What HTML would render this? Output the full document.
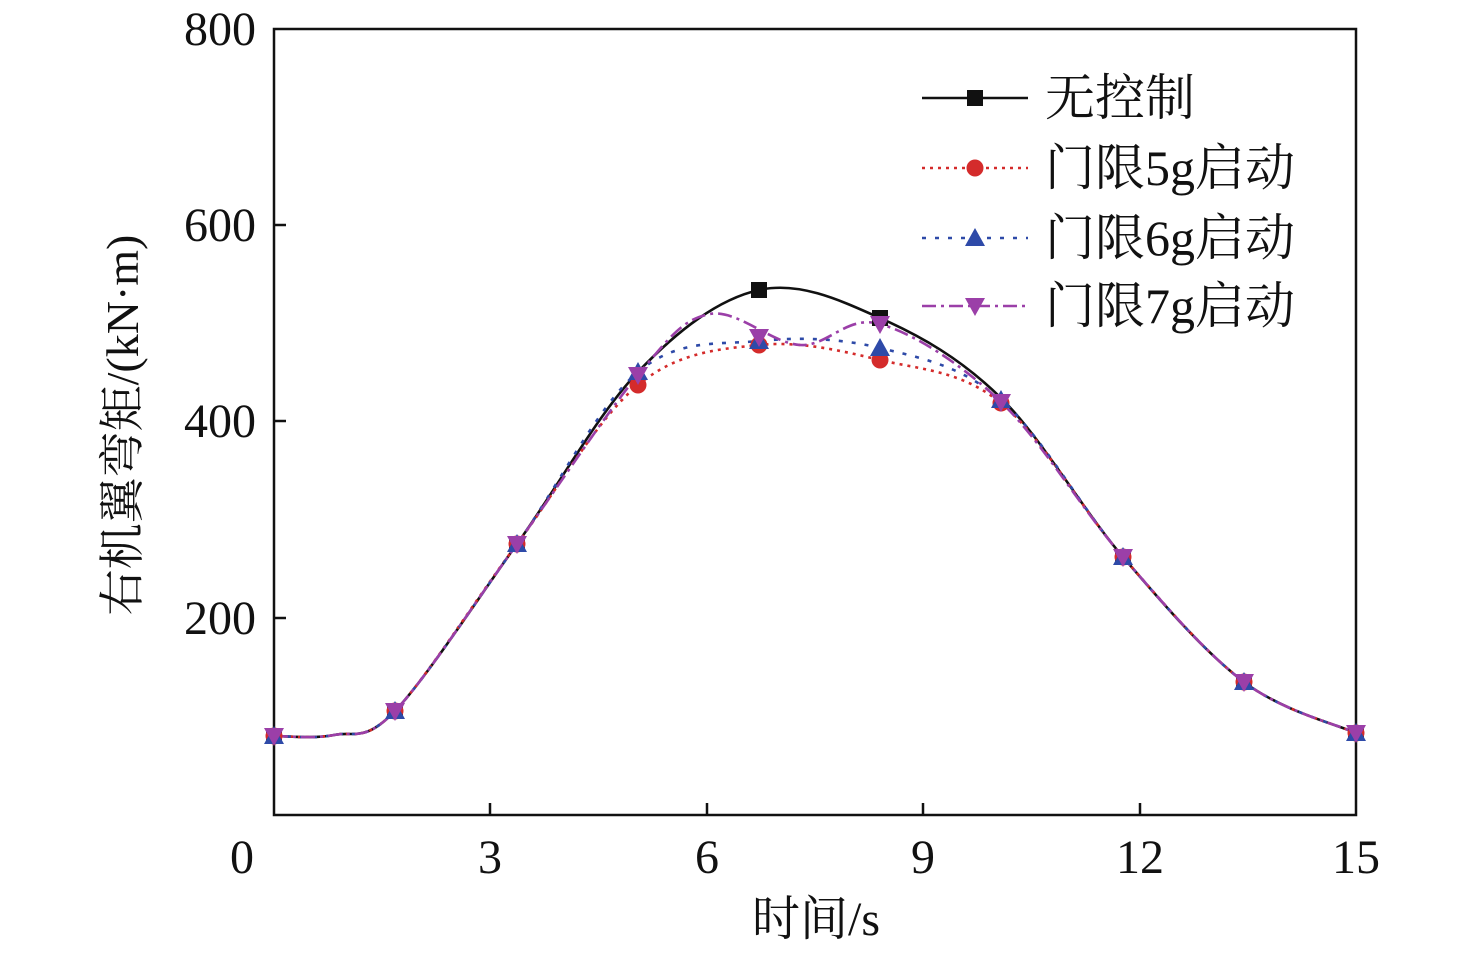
<!DOCTYPE html>
<html><head><meta charset="utf-8"><style>
html,body{margin:0;padding:0;background:#fff;}
svg{display:block;}
text{font-family:"Liberation Serif","Noto Serif CJK SC",serif;fill:#111;}
</style></head><body>
<svg id="s" width="1476" height="953" xmlns="http://www.w3.org/2000/svg">
<rect x="274" y="29" width="1082" height="786" fill="none" stroke="#111" stroke-width="2.5"/>
<g stroke="#111" stroke-width="2.5">
<line x1="490" y1="815" x2="490" y2="803"/><line x1="707" y1="815" x2="707" y2="803"/>
<line x1="923" y1="815" x2="923" y2="803"/><line x1="1140" y1="815" x2="1140" y2="803"/>
<line x1="274" y1="225" x2="286" y2="225"/><line x1="274" y1="421" x2="286" y2="421"/>
<line x1="274" y1="618" x2="286" y2="618"/>
</g>
<g font-size="48" text-anchor="middle">
<text x="242" y="873">0</text><text x="490" y="873">3</text><text x="707" y="873">6</text>
<text x="923" y="873">9</text><text x="1140" y="873">12</text><text x="1356" y="873">15</text>
</g>
<g font-size="48" text-anchor="end">
<text x="256" y="45">800</text><text x="256" y="241">600</text><text x="256" y="437">400</text><text x="256" y="634">200</text>
</g>
<text x="816" y="935" font-size="48" text-anchor="middle">时间/s</text>
<text transform="translate(138,425) rotate(-90)" font-size="46" text-anchor="middle">右机翼弯矩/(kN·m)</text>
<g id="curves"></g>
<g font-size="50">
<text x="1045" y="115">无控制</text><text x="1045" y="185">门限5g启动</text>
<text x="1045" y="255">门限6g启动</text><text x="1045" y="323">门限7g启动</text>
</g>
</svg>
<script>
var g=document.getElementById('curves'),NS='http://www.w3.org/2000/svg';
function cr(p){var d='M'+p[0][0]+','+p[0][1];for(var i=0;i<p.length-1;i++){var a=p[i-1]||p[i],b=p[i],c=p[i+1],e=p[i+2]||c;
d+=' C'+(b[0]+(c[0]-a[0])/6)+','+(b[1]+(c[1]-a[1])/6)+' '+(c[0]-(e[0]-b[0])/6)+','+(c[1]-(e[1]-b[1])/6)+' '+c[0]+','+c[1];}return d;}
function el(t,a){var e=document.createElementNS(NS,t);for(var k in a)e.setAttribute(k,a[k]);g.appendChild(e);return e;}
var head=[[274,736],[334,735],[395,711],[517,544]];
var tail=[[1123,557],[1244,682],[1356,733]];
var S=[
{c:'#d42b2b',dash:'3,5',m:'circle',mid:[[638,385],[759,345],[880,360],[1001,403]]},
{c:'#2e4aa8',dash:'4,9',m:'up',mid:[[638,372],[759,341],[880,348],[1001,400]]},
{c:'#9b3fa8',dash:'14,5,3,5',m:'down',mid:[[638,375],[710,314],[800,345],[880,324],[1001,402]],mk:[[638,375],[759,337],[880,324],[1001,402]]},
{c:'#111',dash:'',m:'sq',mid:[[638,372],[759,290],[880,318],[1001,398]],mk:[[759,290],[880,318]]}
];
S.forEach(function(s){s.pts=head.concat(s.mid,tail);if(!s.mk)s.mk=s.mid;});
var allX=[[274,736],[395,711],[517,544],[1123,557],[1244,682],[1356,733]];
function marker(t,x,y,c){
 if(t=='circle')el('circle',{cx:x,cy:y,r:8.5,fill:c});
 else if(t=='up')el('polygon',{points:(x)+','+(y-10)+' '+(x-10)+','+(y+8)+' '+(x+10)+','+(y+8),fill:c});
 else if(t=='down')el('polygon',{points:(x)+','+(y+10)+' '+(x-10)+','+(y-8)+' '+(x+10)+','+(y-8),fill:c});
 else el('rect',{x:x-8,y:y-8,width:16,height:16,fill:c});
}
var order=[3,0,1,2];
order.forEach(function(i){var s=S[i];el('path',{d:cr(s.pts),fill:'none',stroke:s.c,'stroke-width':2.6,'stroke-dasharray':s.dash});});
order.forEach(function(i){var s=S[i];s.mk.forEach(function(p){marker(s.m,p[0],p[1],s.c);});allX.forEach(function(p){marker(s.m,p[0],p[1],s.c);});});
var ly=[98,168,238,306],li=[3,0,1,2];
li.forEach(function(i,k){var s=S[i];el('line',{x1:922,y1:ly[k],x2:1028,y2:ly[k],stroke:s.c,'stroke-width':2.6,'stroke-dasharray':s.dash});marker(s.m,975,ly[k],s.c);});
</script>
</body></html>
